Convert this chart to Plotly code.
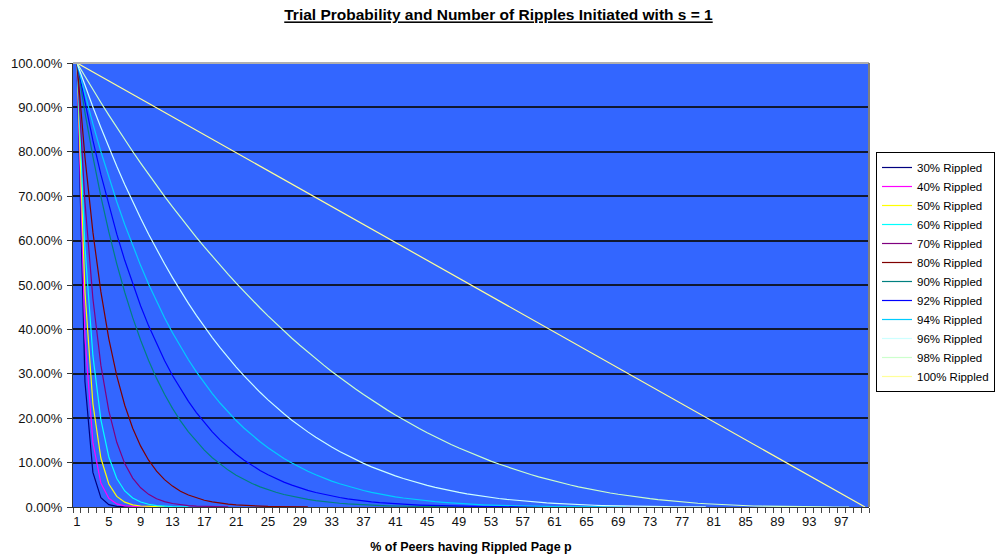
import plotly.graph_objects as go

# Categories: % of peers having rippled page p
pct_peers = list(range(1, 101))
tick_labels = list(range(1, 98, 4))

series_names = ["30% Rippled", "40% Rippled", "50% Rippled", "60% Rippled", "70% Rippled",
                "80% Rippled", "90% Rippled", "92% Rippled", "94% Rippled", "96% Rippled",
                "98% Rippled", "100% Rippled"]
series_colors = ["#000080", "#FF00FF", "#FFFF00", "#00FFFF", "#800080", "#800000",
                 "#008080", "#0000FF", "#00CCFF", "#CCFFFF", "#CCFFCC", "#FFFF99"]

# Trial probability values (%), starting at category 1
r30 = [100, 28.28, 7.79, 2.09, 0.54, 0.14, 0.03, 0.01]
r40 = [100, 38.38, 14.49, 5.38, 1.96, 0.70, 0.25, 0.08, 0.03, 0.01]
r50 = [100, 48.48, 23.25, 11.03, 5.17, 2.39, 1.10, 0.49, 0.22, 0.10, 0.04, 0.02]
r60 = [100, 58.59, 34.08, 19.67, 11.27, 6.41, 3.61, 2.02, 1.12, 0.62, 0.33, 0.18, 0.10,
       0.05, 0.03]
r70 = [100, 68.69, 46.96, 31.95, 21.63, 14.57, 9.77, 6.51, 4.32, 2.85, 1.87, 1.22, 0.79,
       0.51, 0.32, 0.21, 0.13, 0.08, 0.05, 0.03]
r80 = [100, 78.79, 61.90, 48.50, 37.89, 29.52, 22.92, 17.75, 13.70, 10.54, 8.08, 6.17,
       4.70, 3.56, 2.69, 2.03, 1.52, 1.14, 0.85, 0.63, 0.46, 0.34, 0.25, 0.18, 0.13, 0.09,
       0.07, 0.05, 0.03, 0.02]
r90 = [100, 88.89, 78.91, 69.96, 61.95, 54.77, 48.36, 42.64, 37.55, 33.01, 28.97, 25.39,
       22.22, 19.41, 16.93, 14.74, 12.81, 11.11, 9.62, 8.31, 7.17, 6.17, 5.30, 4.54, 3.89,
       3.32, 2.82, 2.40, 2.03, 1.72, 1.45, 1.22, 1.02, 0.85, 0.71, 0.59, 0.49, 0.40, 0.33,
       0.27, 0.22, 0.18, 0.15, 0.12, 0.09, 0.08, 0.06, 0.05, 0.04, 0.03]
r92 = [100, 90.91, 82.56, 74.90, 67.88, 61.45, 55.56, 50.19, 45.28, 40.80, 36.72, 33.01,
       29.63, 26.57, 23.79, 21.27, 18.99, 16.93, 15.07, 13.40, 11.89, 10.53, 9.32, 8.23,
       7.26, 6.39, 5.61, 4.92, 4.30, 3.76, 3.27, 2.85, 2.47, 2.14, 1.85, 1.59, 1.37, 1.17,
       1.00, 0.85, 0.73, 0.62, 0.52, 0.44, 0.37, 0.31, 0.26, 0.21, 0.18, 0.14, 0.12, 0.10,
       0.08, 0.06, 0.05, 0.04, 0.03, 0.03, 0.02, 0.02]
r94 = [100, 92.93, 86.29, 80.06, 74.23, 68.76, 63.64, 58.85, 54.37, 50.19, 46.28, 42.64,
       39.25, 36.09, 33.16, 30.43, 27.89, 25.54, 23.36, 21.34, 19.47, 17.75, 16.15, 14.69,
       13.33, 12.09, 10.94, 9.90, 8.93, 8.05, 7.25, 6.51, 5.84, 5.23, 4.68, 4.17, 3.72, 3.30,
       2.93, 2.59, 2.29, 2.02, 1.78, 1.56, 1.36, 1.19, 1.04, 0.90, 0.78, 0.67, 0.58, 0.49,
       0.42, 0.36, 0.30, 0.26, 0.22, 0.18, 0.15, 0.13, 0.10, 0.08, 0.07, 0.06, 0.05, 0.04,
       0.03, 0.02, 0.02, 0.01]
r96 = [100, 94.95, 90.10, 85.46, 81.01, 76.75, 72.66, 68.76, 65.02, 61.45, 58.03, 54.77,
       51.66, 48.69, 45.86, 43.16, 40.59, 38.15, 35.82, 33.61, 31.51, 29.52, 27.63, 25.83,
       24.13, 22.52, 21.00, 19.56, 18.20, 16.92, 15.71, 14.57, 13.50, 12.50, 11.55, 10.66,
       9.83, 9.05, 8.32, 7.64, 7.00, 6.41, 5.85, 5.34, 4.86, 4.42, 4.01, 3.63, 3.28, 2.96,
       2.67, 2.39, 2.14, 1.92, 1.71, 1.52, 1.35, 1.19, 1.05, 0.92, 0.81, 0.70, 0.61, 0.53,
       0.45, 0.39, 0.33, 0.28, 0.24, 0.20, 0.17, 0.14, 0.11, 0.09, 0.07, 0.06, 0.05, 0.04,
       0.03, 0.02]
r98 = [100, 96.97, 94.00, 91.09, 88.25, 85.46, 82.73, 80.06, 77.45, 74.90, 72.40, 69.96,
       67.58, 65.25, 62.97, 60.75, 58.58, 56.46, 54.40, 52.38, 50.42, 48.50, 46.64, 44.82,
       43.05, 41.33, 39.65, 38.02, 36.44, 34.90, 33.40, 31.95, 30.54, 29.17, 27.85, 26.56,
       25.32, 24.11, 22.95, 21.82, 20.73, 19.67, 18.66, 17.67, 16.73, 15.81, 14.94, 14.09,
       13.28, 12.50, 11.75, 11.03, 10.34, 9.68, 9.05, 8.44, 7.87, 7.32, 6.80, 6.30, 5.83,
       5.38, 4.95, 4.55, 4.17, 3.82, 3.48, 3.16, 2.87, 2.59, 2.33, 2.09, 1.87, 1.66, 1.47,
       1.29, 1.13, 0.98, 0.85, 0.73, 0.62, 0.52, 0.43, 0.36, 0.29, 0.23, 0.18, 0.14, 0.11,
       0.08, 0.05, 0.04, 0.02, 0.01, 0.01, 0.00, 0.00, 0.00]
r100 = [100.00, 98.99, 97.98, 96.97, 95.96, 94.95, 93.94, 92.93, 91.92, 90.91, 89.90, 88.89,
        87.88, 86.87, 85.86, 84.85, 83.84, 82.83, 81.82, 80.81, 79.80, 78.79, 77.78, 76.77,
        75.76, 74.75, 73.74, 72.73, 71.72, 70.71, 69.70, 68.69, 67.68, 66.67, 65.66, 64.65,
        63.64, 62.63, 61.62, 60.61, 59.60, 58.59, 57.58, 56.57, 55.56, 54.55, 53.54, 52.53,
        51.52, 50.51, 49.49, 48.48, 47.47, 46.46, 45.45, 44.44, 43.43, 42.42, 41.41, 40.40,
        39.39, 38.38, 37.37, 36.36, 35.35, 34.34, 33.33, 32.32, 31.31, 30.30, 29.29, 28.28,
        27.27, 26.26, 25.25, 24.24, 23.23, 22.22, 21.21, 20.20, 19.19, 18.18, 17.17, 16.16,
        15.15, 14.14, 13.13, 12.12, 11.11, 10.10, 9.09, 8.08, 7.07, 6.06, 5.05, 4.04, 3.03,
        2.02, 1.01, 0.00]

all_series = [r30, r40, r50, r60, r70, r80, r90, r92, r94, r96, r98, r100]

FONT = "Liberation Sans, Arial, sans-serif"

fig = go.Figure()
for name, color, vals in zip(series_names, series_colors, all_series):
    fig.add_trace(go.Scatter(
        x=pct_peers[:len(vals)],
        y=[v / 100 for v in vals],
        mode="lines",
        name=name,
        line=dict(color=color, width=1.2),
        hoverinfo="skip",
    ))

fig.update_layout(
    width=997, height=559,
    margin=dict(l=73, r=128, t=63, b=52, autoexpand=False),
    paper_bgcolor="white",
    plot_bgcolor="#3366FF",
    font=dict(family=FONT, size=12, color="#111"),
    title=dict(
        text="<b>Trial Probability and Number of Ripples Initiated with s = 1</b>",
        x=0.5, xref="container", xanchor="center",
        y=1 - 15 / 559, yref="container", yanchor="middle",
        font=dict(family=FONT, size=15.5, color="#000", lineposition="under"),
    ),
    showlegend=True,
    legend=dict(
        x=(876 - 73) / 796, y=(507 - 152) / 444, xanchor="left", yanchor="top",
        bgcolor="white", bordercolor="#000", borderwidth=1,
        font=dict(family=FONT, size=11.5, color="#000"),
        itemwidth=30, tracegroupgap=0, traceorder="normal",
    ),
)

fig.update_xaxes(
    range=[0.5, 100.5],
    tickmode="array", tickvals=tick_labels, ticktext=[str(t) for t in tick_labels],
    ticks="outside", ticklen=2, tickcolor="rgba(0,0,0,0)",
    showgrid=False, zeroline=False,
    showline=True, linecolor="#333", linewidth=1,
    tickfont=dict(family=FONT, size=13, color="#111"),
    minor=dict(ticks="outside", tick0=0.5, dtick=1, ticklen=5, tickcolor="#444",
               tickwidth=1, showgrid=False),
    title=dict(text="<b>% of Peers having Rippled Page p</b>",
               font=dict(family=FONT, size=12.5, color="#000"), standoff=14),
)

fig.update_yaxes(
    range=[0, 1], dtick=0.1, tick0=0, tickformat=".2%",
    ticks="outside", ticklen=5, tickcolor="#333", ticklabelstandoff=2,
    showgrid=True, gridcolor="#101830", gridwidth=2,
    zeroline=False, showline=True, linecolor="#333", linewidth=1,
    tickfont=dict(family=FONT, size=13, color="#111"),
)

# plot-area border (top and right, grey)
fig.add_shape(type="line", xref="paper", yref="paper", x0=0, x1=1, y0=1, y1=1,
              line=dict(color="#B0B0B0", width=2))
fig.add_shape(type="line", xref="paper", yref="paper", x0=1, x1=1, y0=0, y1=1,
              line=dict(color="#808080", width=2))

fig.write_html("out.html")
